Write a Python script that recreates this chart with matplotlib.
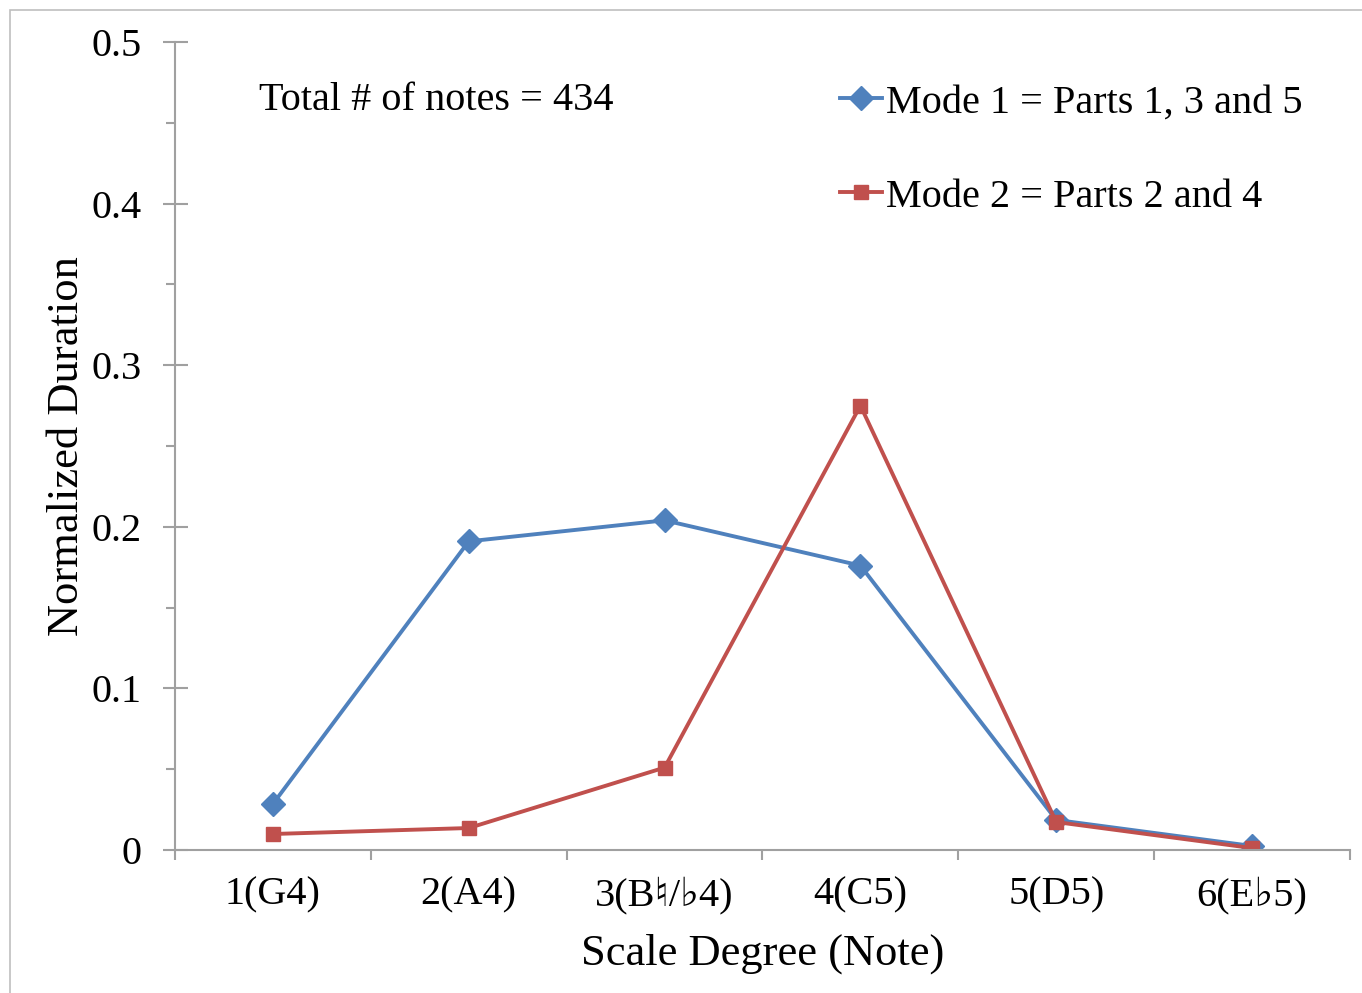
#!/usr/bin/env python3

import matplotlib
matplotlib.use('Agg')
import matplotlib.pyplot as plt
from matplotlib.patches import Rectangle
from matplotlib.ticker import MultipleLocator, FixedLocator

# data
degrees = ['1(G4)', '2(A4)', '3(B\u266e/\u266d4)', '4(C5)', '5(D5)', '6(E\u266d5)']
mode1 = [0.0285, 0.191, 0.204, 0.176, 0.0186, 0.0025]
mode2 = [0.0099, 0.0136, 0.051, 0.275, 0.0173, 0.0012]
mode1_label = 'Mode 1 = Parts 1, 3 and 5'
mode2_label = 'Mode 2 = Parts 2 and 4'
note_text = 'Total # of notes = 434'

plt.rcParams['font.family'] = ['Liberation Serif', 'DejaVu Serif', 'DejaVu Sans']
plt.rcParams['font.size'] = 29

BLUE = '#4F81BD'
RED = '#C0504D'
GREY = '#A0A0A0'


def main():
    fig = plt.figure(figsize=(13.62, 9.93), dpi=100)
    ax = fig.add_axes([175 / 1362, 1 - 850 / 993, 1175 / 1362, 808 / 993])

    # thin frame round the chart
    fig.patches.append(Rectangle((10 / 1362, -0.1), 1.2, 1 - 10 / 993 + 0.1,
                                 transform=fig.transFigure, fill=False,
                                 edgecolor='#BFBFBF', linewidth=1.2))

    x = list(range(len(degrees)))
    ax.plot(x, mode1, color=BLUE, lw=2.8, marker='D', ms=12, label=mode1_label)
    ax.plot(x, mode2, color=RED, lw=2.8, marker='s', ms=10.5, label=mode2_label)

    ax.set_xlim(-0.5, len(degrees) - 0.5)
    ax.set_ylim(0, 0.5)

    for s in ['top', 'right']:
        ax.spines[s].set_visible(False)
    for s in ['left', 'bottom']:
        ax.spines[s].set_color(GREY)
        ax.spines[s].set_linewidth(1.5)

    ax.yaxis.set_minor_locator(MultipleLocator(0.05))
    ax.set_yticks([0, 0.1, 0.2, 0.3, 0.4, 0.5])
    ax.set_yticklabels(['0', '0.1', '0.2', '0.3', '0.4', '0.5'])
    ax.tick_params(axis='y', which='major', direction='inout', length=18,
                   width=1.5, color=GREY, pad=15)
    ax.tick_params(axis='y', which='minor', direction='out', length=6.5,
                   width=1.5, color=GREY)

    # ticks at category boundaries, labels at centres
    ax.xaxis.set_major_locator(FixedLocator([i - 0.5 for i in range(len(degrees) + 1)]))
    ax.xaxis.set_major_formatter(plt.NullFormatter())
    ax.xaxis.set_minor_locator(FixedLocator(x))
    ax.set_xticklabels(degrees, minor=True)
    ax.tick_params(axis='x', which='major', direction='out', length=7,
                   width=1.5, color=GREY)
    ax.tick_params(axis='x', which='minor', length=0, pad=19)

    ax.set_xlabel('Scale Degree (Note)', fontsize=32, labelpad=14)
    ax.set_ylabel('Normalized Duration', fontsize=32, labelpad=3)

    ax.text(-0.071, 0.464, note_text, va='center', ha='left')

    ax.legend(loc='upper left', bbox_to_anchor=((840 - 175) / 1175, 1 - 42 / 808),
              frameon=False, handlelength=1.05, handletextpad=0.08,
              labelspacing=1.42, borderpad=0, borderaxespad=0)

    fig.savefig('out.png', dpi=100)


if __name__ == "__main__":
    main()
